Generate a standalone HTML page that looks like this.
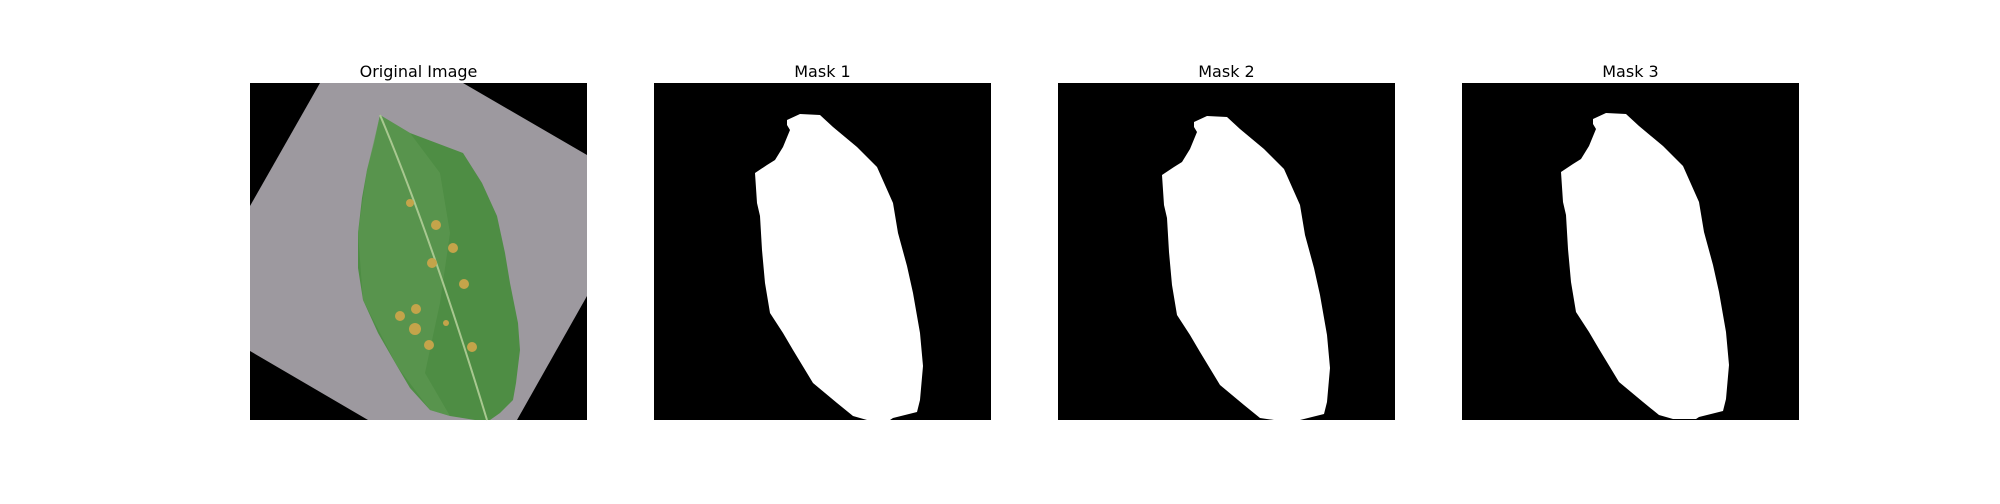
<!DOCTYPE html>
<html><head><meta charset="utf-8"><style>
body{margin:0;background:#fff;width:2000px;height:500px;overflow:hidden;font-family:"DejaVu Sans","Liberation Sans",sans-serif}
</style></head><body>
<svg width="2000" height="500">
<g id="g"></g>
</svg>
<script>
const titles=["Original Image","Mask 1","Mask 2","Mask 3"];
const panelLeft=[250,654,1058,1462];
const maskShape=[[133,37],[146,31],[166,32],[179,44],[203,64],[223,84],[239,120],[244,150],[253,183],[259,210],[266,250],[269,283],[266,317],[263,329],[239,335],[236,337],[213,337],[199,333],[183,320],[159,300],[139,267],[129,250],[116,230],[111,200],[108,167],[106,133],[103,120],[101,90],[113,82],[121,77],[129,64],[136,47],[133,42]];
const maskShift=[[0,0],[3,2],[-2,-1]];
const spots=[[160,120,4],[186,142,5],[203,165,5],[182,180,5],[214,201,5],[166,226,5],[150,233,5],[165,246,6],[179,262,5],[222,264,5],[196,240,3]];
const NS="http://www.w3.org/2000/svg";
const g=document.getElementById('g');
function mk(t,a,p){const e=document.createElementNS(NS,t);for(const k in a)e.setAttribute(k,a[k]);(p||g).appendChild(e);return e;}
const S=337,T=83;
titles.forEach((t,i)=>{
 const x0=panelLeft[i];
 const tx=mk('text',{x:x0+S/2,y:77,'text-anchor':'middle','font-size':'16',fill:'#000'});
 tx.textContent=t;
 
 
 const grp=mk('g',{transform:`translate(${x0},${T})`});
 
 
 mk('rect',{x:0,y:0,width:S,height:S,fill:'#000'},grp);
 if(i==0){
  mk('polygon',{points:'70,0 213,0 337,72 337,213 267,337 118,337 0,268 0,123',fill:'#9d999f'},grp);
  mk('polygon',{points:'130,32 160,50 213,70 232,100 247,133 255,170 260,200 268,240 270,267 266,300 263,317 250,330 240,337 225,337 200,333 180,327 160,305 147,283 128,250 113,217 108,185 108,150 112,115 117,87 124,60',fill:'#4e8d44'},grp);
  mk('polygon',{points:'130,32 160,50 190,90 200,150 190,220 175,290 200,333 180,327 147,283 113,217 108,150 117,87',fill:'#5f9a53',opacity:'0.6'},grp);
  mk('path',{d:'M130,32 Q180,150 237,337',stroke:'#a8c890','stroke-width':'2',fill:'none'},grp);
  spots.forEach(s=>mk('circle',{cx:s[0],cy:s[1],r:s[2],fill:'#c4a44a'},grp));
 } else {
  const d=maskShift[i-1];
  mk('polygon',{points:maskShape.map(p=>[p[0]+d[0],Math.min(S,p[1]+d[1])].join(',')).join(' '),fill:'#fff'},grp);
 }
});
</script>
</body></html>
